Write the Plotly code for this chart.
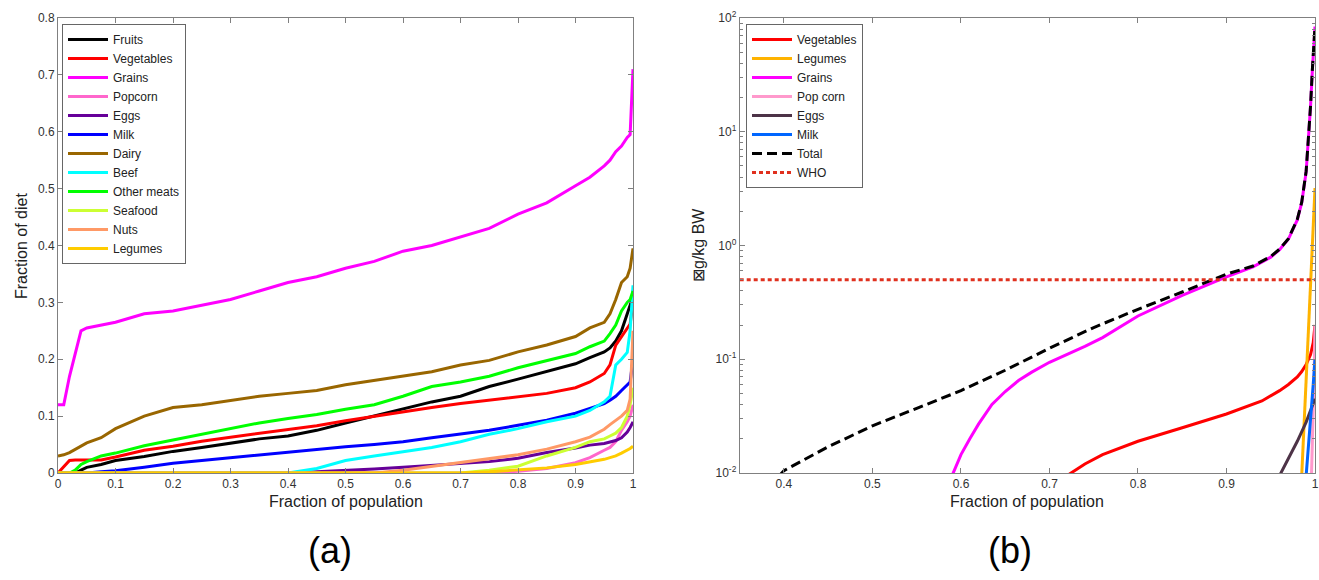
import plotly.graph_objects as go

# ---------------- Panel (a) data ----------------
X_A = [0, 0.01, 0.02, 0.03, 0.04, 0.05, 0.075, 0.1, 0.15, 0.2, 0.25, 0.3, 0.35, 0.4, 0.45,
       0.5, 0.55, 0.6, 0.65, 0.7, 0.75, 0.8, 0.85, 0.9, 0.925, 0.95, 0.96, 0.97, 0.98, 0.99, 0.995, 1.0]

fruits = [0, 0, 0, 0, 0.005, 0.01, 0.015, 0.022, 0.029, 0.038, 0.045, 0.052, 0.06, 0.065, 0.075,
          0.088, 0.1, 0.112, 0.125, 0.135, 0.152, 0.165, 0.178, 0.192, 0.203, 0.213, 0.22, 0.232, 0.25, 0.28, 0.295, 0.31]
vegetables = [0, 0.012, 0.022, 0.023, 0.023, 0.023, 0.023, 0.028, 0.04, 0.047, 0.056, 0.063, 0.07, 0.076, 0.083,
              0.092, 0.1, 0.108, 0.115, 0.122, 0.128, 0.133, 0.14, 0.15, 0.16, 0.175, 0.19, 0.225, 0.24, 0.255, 0.262, 0.30]
grains = [0.12, 0.12, 0.17, 0.21, 0.25, 0.255, 0.26, 0.265, 0.28, 0.285, 0.295, 0.305, 0.32, 0.335, 0.345,
          0.36, 0.372, 0.39, 0.40, 0.415, 0.43, 0.455, 0.475, 0.505, 0.52, 0.54, 0.55, 0.565, 0.575, 0.59, 0.595, 0.71]
popcorn = [0, 0, 0, 0, 0, 0, 0, 0, 0, 0, 0, 0, 0, 0, 0,
           0, 0, 0, 0, 0, 0, 0.003, 0.008, 0.018, 0.027, 0.04, 0.045, 0.055, 0.075, 0.09, 0.1, 0.12]
eggs = [0, 0, 0, 0, 0, 0, 0, 0, 0, 0, 0, 0, 0, 0, 0.002,
        0.004, 0.007, 0.01, 0.013, 0.016, 0.02, 0.026, 0.036, 0.044, 0.049, 0.052, 0.054, 0.057, 0.062, 0.072, 0.08, 0.09]
milk = [0, 0, 0, 0, 0, 0, 0.002, 0.004, 0.01, 0.017, 0.022, 0.027, 0.032, 0.036, 0.041,
        0.046, 0.05, 0.055, 0.062, 0.068, 0.075, 0.084, 0.093, 0.105, 0.113, 0.122, 0.128, 0.135, 0.145, 0.155, 0.16, 0.2]
dairy = [0.03, 0.032, 0.036, 0.042, 0.048, 0.053, 0.062, 0.078, 0.10, 0.115, 0.12, 0.127, 0.135, 0.14, 0.145,
         0.155, 0.163, 0.17, 0.178, 0.19, 0.198, 0.213, 0.225, 0.24, 0.255, 0.265, 0.28, 0.305, 0.335, 0.345, 0.36, 0.395]
beef = [0, 0, 0, 0, 0, 0, 0, 0, 0, 0, 0, 0, 0, 0, 0.008,
        0.022, 0.03, 0.037, 0.045, 0.055, 0.068, 0.078, 0.09, 0.1, 0.11, 0.125, 0.135, 0.19, 0.2, 0.212, 0.25, 0.33]
other_meats = [0, 0, 0, 0.005, 0.015, 0.02, 0.03, 0.035, 0.048, 0.058, 0.068, 0.078, 0.088, 0.096, 0.103,
               0.112, 0.12, 0.135, 0.152, 0.16, 0.17, 0.185, 0.198, 0.21, 0.222, 0.232, 0.245, 0.26, 0.285, 0.30, 0.305, 0.32]
seafood = [0, 0, 0, 0, 0, 0, 0, 0, 0, 0, 0, 0, 0, 0, 0,
           0, 0, 0, 0, 0, 0.005, 0.012, 0.03, 0.045, 0.055, 0.06, 0.065, 0.07, 0.08, 0.1, 0.12, 0.15]
nuts = [0, 0, 0, 0, 0, 0, 0, 0, 0, 0, 0, 0, 0, 0, 0,
        0, 0, 0.005, 0.012, 0.018, 0.026, 0.032, 0.042, 0.055, 0.063, 0.077, 0.085, 0.092, 0.1, 0.11, 0.13, 0.25]
legumes = [0, 0, 0, 0, 0, 0, 0, 0, 0, 0, 0, 0, 0, 0, 0,
           0, 0, 0, 0, 0, 0.002, 0.005, 0.009, 0.015, 0.019, 0.024, 0.027, 0.03, 0.035, 0.04, 0.043, 0.047]

SERIES_A = ["Fruits", "Vegetables", "Grains", "Popcorn", "Eggs", "Milk", "Dairy", "Beef",
            "Other meats", "Seafood", "Nuts", "Legumes"]
VALUES_A = [fruits, vegetables, grains, popcorn, eggs, milk, dairy, beef, other_meats, seafood, nuts, legumes]
COLORS_A = ["#000000", "#FF0000", "#FF00FF", "#FF66CC", "#660099", "#0000FF", "#996600", "#00FFFF",
            "#00FF00", "#CCFF33", "#FF9966", "#FFCC00"]

# ---------------- Panel (b) data ----------------
veg_b_x = [0.72, 0.74, 0.76, 0.8, 0.85, 0.9, 0.94, 0.96, 0.97, 0.98, 0.985, 0.99, 0.995, 0.998, 1.0]
veg_b_y = [0.0095, 0.012, 0.0145, 0.019, 0.025, 0.033, 0.043, 0.053, 0.06, 0.07, 0.078, 0.09, 0.11, 0.14, 0.2]
leg_b_x = [0.985, 0.988, 0.991, 0.994, 0.997, 0.999, 1.0]
leg_b_y = [0.0095, 0.03, 0.08, 0.25, 0.8, 2.0, 3.2]
grain_b_x = [0.59, 0.6, 0.61, 0.62, 0.635, 0.65, 0.665, 0.68, 0.7, 0.72, 0.74, 0.76, 0.8, 0.85, 0.9,
             0.93, 0.95, 0.96, 0.97, 0.98, 0.985, 0.99, 0.993, 0.995, 0.997, 0.999, 1.0]
grain_b_y = [0.0095, 0.0145, 0.02, 0.027, 0.04, 0.052, 0.065, 0.077, 0.094, 0.11, 0.13, 0.155, 0.24, 0.365, 0.53,
             0.65, 0.79, 0.92, 1.14, 1.68, 2.38, 4.45, 8.9, 16.8, 34.5, 59, 84]
pop_b_x = [0.996, 0.998, 0.999, 1.0]
pop_b_y = [0.0095, 0.03, 0.07, 0.2]
eggs_b_x = [0.96, 0.97, 0.98, 0.99, 0.995, 1.0]
eggs_b_y = [0.0095, 0.0135, 0.019, 0.028, 0.036, 0.045]
milk_b_x = [0.99, 0.993, 0.996, 0.998, 1.0]
milk_b_y = [0.0095, 0.018, 0.035, 0.06, 0.1]
total_b_x = [0.395, 0.4, 0.45, 0.5, 0.55, 0.6, 0.65, 0.7, 0.75, 0.8, 0.85, 0.9,
             0.93, 0.95, 0.96, 0.97, 0.98, 0.985, 0.99, 0.993, 0.995, 0.997, 0.999, 1.0]
total_b_y = [0.0095, 0.0105, 0.017, 0.026, 0.037, 0.053, 0.08, 0.125, 0.19, 0.275, 0.39, 0.56,
             0.66, 0.8, 0.93, 1.15, 1.7, 2.4, 4.5, 9, 17, 35, 60, 85]
who_x = [0.35, 1.0]
who_y = [0.5, 0.5]

FONT = "Liberation Sans, Arial, sans-serif"
W, H = 1319, 580

fig = go.Figure()

for name, vals, col in zip(SERIES_A, VALUES_A, COLORS_A):
    fig.add_trace(go.Scatter(x=X_A, y=vals, mode="lines", name=name,
                             line=dict(color=col, width=3), xaxis="x", yaxis="y", legend="legend"))

right = [
    ("Vegetables", veg_b_x, veg_b_y, "#FF0000", "solid"),
    ("Legumes", leg_b_x, leg_b_y, "#FFB300", "solid"),
    ("Grains", grain_b_x, grain_b_y, "#FF00FF", "solid"),
    ("Pop corn", pop_b_x, pop_b_y, "#FF99CC", "solid"),
    ("Eggs", eggs_b_x, eggs_b_y, "#4D3347", "solid"),
    ("Milk", milk_b_x, milk_b_y, "#0066FF", "solid"),
    ("Total", total_b_x, total_b_y, "#000000", "10px,5px"),
    ("WHO", who_x, who_y, "#E0301E", "4px,3px"),
]
for name, xs, ys, col, dash in right:
    fig.add_trace(go.Scatter(x=xs, y=ys, mode="lines", name=name,
                             line=dict(color=col, width=3, dash=dash),
                             xaxis="x2", yaxis="y2", legend="legend2"))

axis_common = dict(showline=True, linecolor="#808080", linewidth=1, mirror="ticks",
                   ticks="inside", ticklen=5, tickcolor="#808080", showgrid=False, zeroline=False,
                   automargin=False, ticklabeloverflow="allow",
                   tickfont=dict(family=FONT, size=12, color="#333333"))

minor_vals = [m * 10 ** e for e in (-2, -1, 0, 1) for m in range(2, 10)]

fig.update_layout(
    template="none",
    width=W, height=H, margin=dict(l=0, r=0, t=0, b=0, pad=0), autosize=False,
    paper_bgcolor="white", plot_bgcolor="white",
    font=dict(family=FONT, color="#222222"),
    xaxis=dict(domain=[58 / W, 633 / W], range=[0, 1], dtick=0.1, anchor="y", **axis_common),
    yaxis=dict(domain=[1 - 473 / H, 1 - 18 / H], range=[0, 0.8], dtick=0.1, anchor="x", **axis_common),
    xaxis2=dict(domain=[739.7 / W, 1315 / W], range=[0.35, 1], tickvals=[0.4, 0.5, 0.6, 0.7, 0.8, 0.9, 1],
                ticktext=["0.4", "0.5", "0.6", "0.7", "0.8", "0.9", "1"], anchor="y2", **axis_common),
    yaxis2=dict(domain=[1 - 473 / H, 1 - 18 / H], type="log", range=[-2, 2],
                tickvals=[0.01, 0.1, 1, 10, 100],
                ticktext=["10<sup>-2</sup>", "10<sup>-1</sup>", "10<sup>0</sup>", "10<sup>1</sup>", "10<sup>2</sup>"],
                minor=dict(tickvals=minor_vals, ticks="inside", ticklen=3, tickcolor="#808080", showgrid=False),
                anchor="x2", **axis_common),
    legend=dict(x=62 / W, y=1 - 24 / H, xanchor="left", yanchor="top", bgcolor="white",
                bordercolor="#666666", borderwidth=1, font=dict(family=FONT, size=12, color="#222222"),
                tracegroupgap=0, itemwidth=40),
    legend2=dict(x=746 / W, y=1 - 24 / H, xanchor="left", yanchor="top", bgcolor="white",
                 bordercolor="#666666", borderwidth=1, font=dict(family=FONT, size=12, color="#222222"),
                 tracegroupgap=0, itemwidth=40),
    showlegend=True,
)

ann = [
    dict(text="Fraction of population", x=345.5 / W, y=1 - 501 / H, font=dict(size=16)),
    dict(text="Fraction of population", x=1027.4 / W, y=1 - 501 / H, font=dict(size=16)),
    dict(text="Fraction of diet", x=21 / W, y=1 - 246 / H, textangle=-90, font=dict(size=16)),
    dict(text="\u22a0g/kg BW", x=698 / W, y=1 - 245 / H, textangle=-90, font=dict(size=16)),
    dict(text="(a)", x=330 / W, y=1 - 550 / H, font=dict(size=36, color="#000000")),
    dict(text="(b)", x=1010 / W, y=1 - 550 / H, font=dict(size=36, color="#000000")),
]
for a in ann:
    fig.add_annotation(xref="paper", yref="paper", showarrow=False, xanchor="center", yanchor="middle",
                       font_family=FONT, **{k: v for k, v in a.items()})

fig.write_html("out.html", config={"displayModeBar": False},
               post_script="document.body.style.margin='0px';document.body.style.overflow='hidden';")
